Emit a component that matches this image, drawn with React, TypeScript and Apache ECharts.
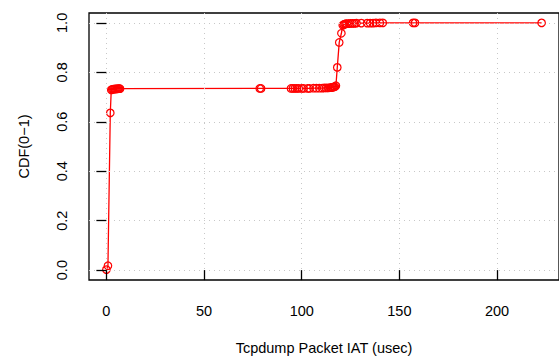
import React, { useEffect, useRef } from "react";
import * as echarts from "echarts";

const iatUsec = [
  0, 0.8, 2.0, 2.5, 3, 3.5, 4, 4.5, 5, 5.5, 6, 6.5, 7,
  78.5, 79.2,
  94.5, 95.5, 96.5, 97.5, 98.5, 100, 101, 103, 104, 106, 107.5, 109, 110.5,
  111.5, 112.5, 113.5, 114.5, 115, 115.5, 116, 116.5, 117, 117.5,
  118.2, 119.2, 120.3,
  121, 121.5, 122, 122.5, 123, 124, 125, 126, 127, 128, 130.5, 133.5, 135,
  136.5, 138, 140, 141.5, 157, 158, 222.8,
];
const cdf = [
  0.002, 0.018, 0.636, 0.729, 0.731, 0.732, 0.732, 0.733, 0.733, 0.733, 0.734, 0.734, 0.734,
  0.735, 0.735,
  0.735, 0.735, 0.735, 0.735, 0.735, 0.735, 0.735, 0.735, 0.735, 0.736, 0.736, 0.736, 0.736,
  0.737, 0.737, 0.737, 0.738, 0.738, 0.739, 0.74, 0.741, 0.742, 0.746,
  0.82, 0.921, 0.958,
  0.99, 0.993, 0.995, 0.996, 0.997, 0.997, 0.998, 0.998, 0.998, 0.999, 0.999, 0.999, 0.999,
  0.999, 1.0, 1.0, 1.0, 1.0, 1.0, 1.0,
];
const xTicks = [0, 50, 100, 150, 200];
const yTicks = [0, 0.2, 0.4, 0.6, 0.8, 1.0];

const FONT = "Liberation Sans";

export default function App() {
  const ref = useRef<HTMLDivElement>(null);
  useEffect(() => {
    if (!ref.current) return;
    const chart = echarts.init(ref.current, undefined, { renderer: "svg" });
    const gridLine = { show: true, lineStyle: { color: "#c8c8c8", width: 1, type: [1, 4] as any } };
    chart.setOption({
      animation: false,
      backgroundColor: "#ffffff",
      grid: {
        left: 89,
        top: 13,
        width: 471,
        height: 272,
        show: true,
        borderColor: "#000000",
        borderWidth: 1.3,
        backgroundColor: "transparent",
      },
      xAxis: {
        type: "value",
        min: -8.9,
        max: 231.7,
        z: 5,
        axisLine: { show: false },
        axisTick: {
          show: true,
          customValues: xTicks,
          length: 10,
          lineStyle: { color: "#000", width: 1.3 },
        },
        axisLabel: {
          customValues: xTicks,
          margin: 23,
          fontFamily: FONT,
          fontSize: 14.5,
          color: "#000",
          formatter: (v: number) => String(v),
        },
        splitLine: gridLine,
        name: "Tcpdump Packet IAT (usec)",
        nameLocation: "middle",
        nameGap: 60,
        nameTextStyle: { fontFamily: FONT, fontSize: 14.5, color: "#000" },
      },
      yAxis: {
        type: "value",
        min: -0.04,
        max: 1.04,
        z: 5,
        axisLine: { show: false },
        axisTick: {
          show: true,
          customValues: yTicks,
          length: 10,
          lineStyle: { color: "#000", width: 1.3 },
        },
        axisLabel: {
          customValues: yTicks,
          rotate: 90,
          margin: 20,
          fontFamily: FONT,
          fontSize: 14.5,
          color: "#000",
          formatter: (v: number) => v.toFixed(1),
        },
        splitLine: gridLine,
        name: "CDF(0\u22121)",
        nameLocation: "middle",
        nameRotate: 90,
        nameGap: 58,
        nameTextStyle: { fontFamily: FONT, fontSize: 14.5, color: "#000" },
      },
      series: [
        {
          type: "line",
          z: 2,
          data: iatUsec.map((x, i) => [x, cdf[i]]),
          symbol: "circle",
          symbolSize: 7.5,
          showAllSymbol: true,
          lineStyle: { color: "#ff0000", width: 1.3 },
          itemStyle: { color: "rgba(255,255,255,0)", borderColor: "#ff0000", borderWidth: 1.2 },
          emphasis: { disabled: true },
        },
      ],
    });
    return () => chart.dispose();
  }, []);
  return (
    <div
      ref={ref}
      style={{ position: "fixed", left: 0, top: 0, width: 559, height: 360, background: "#fff" }}
    />
  );
}
